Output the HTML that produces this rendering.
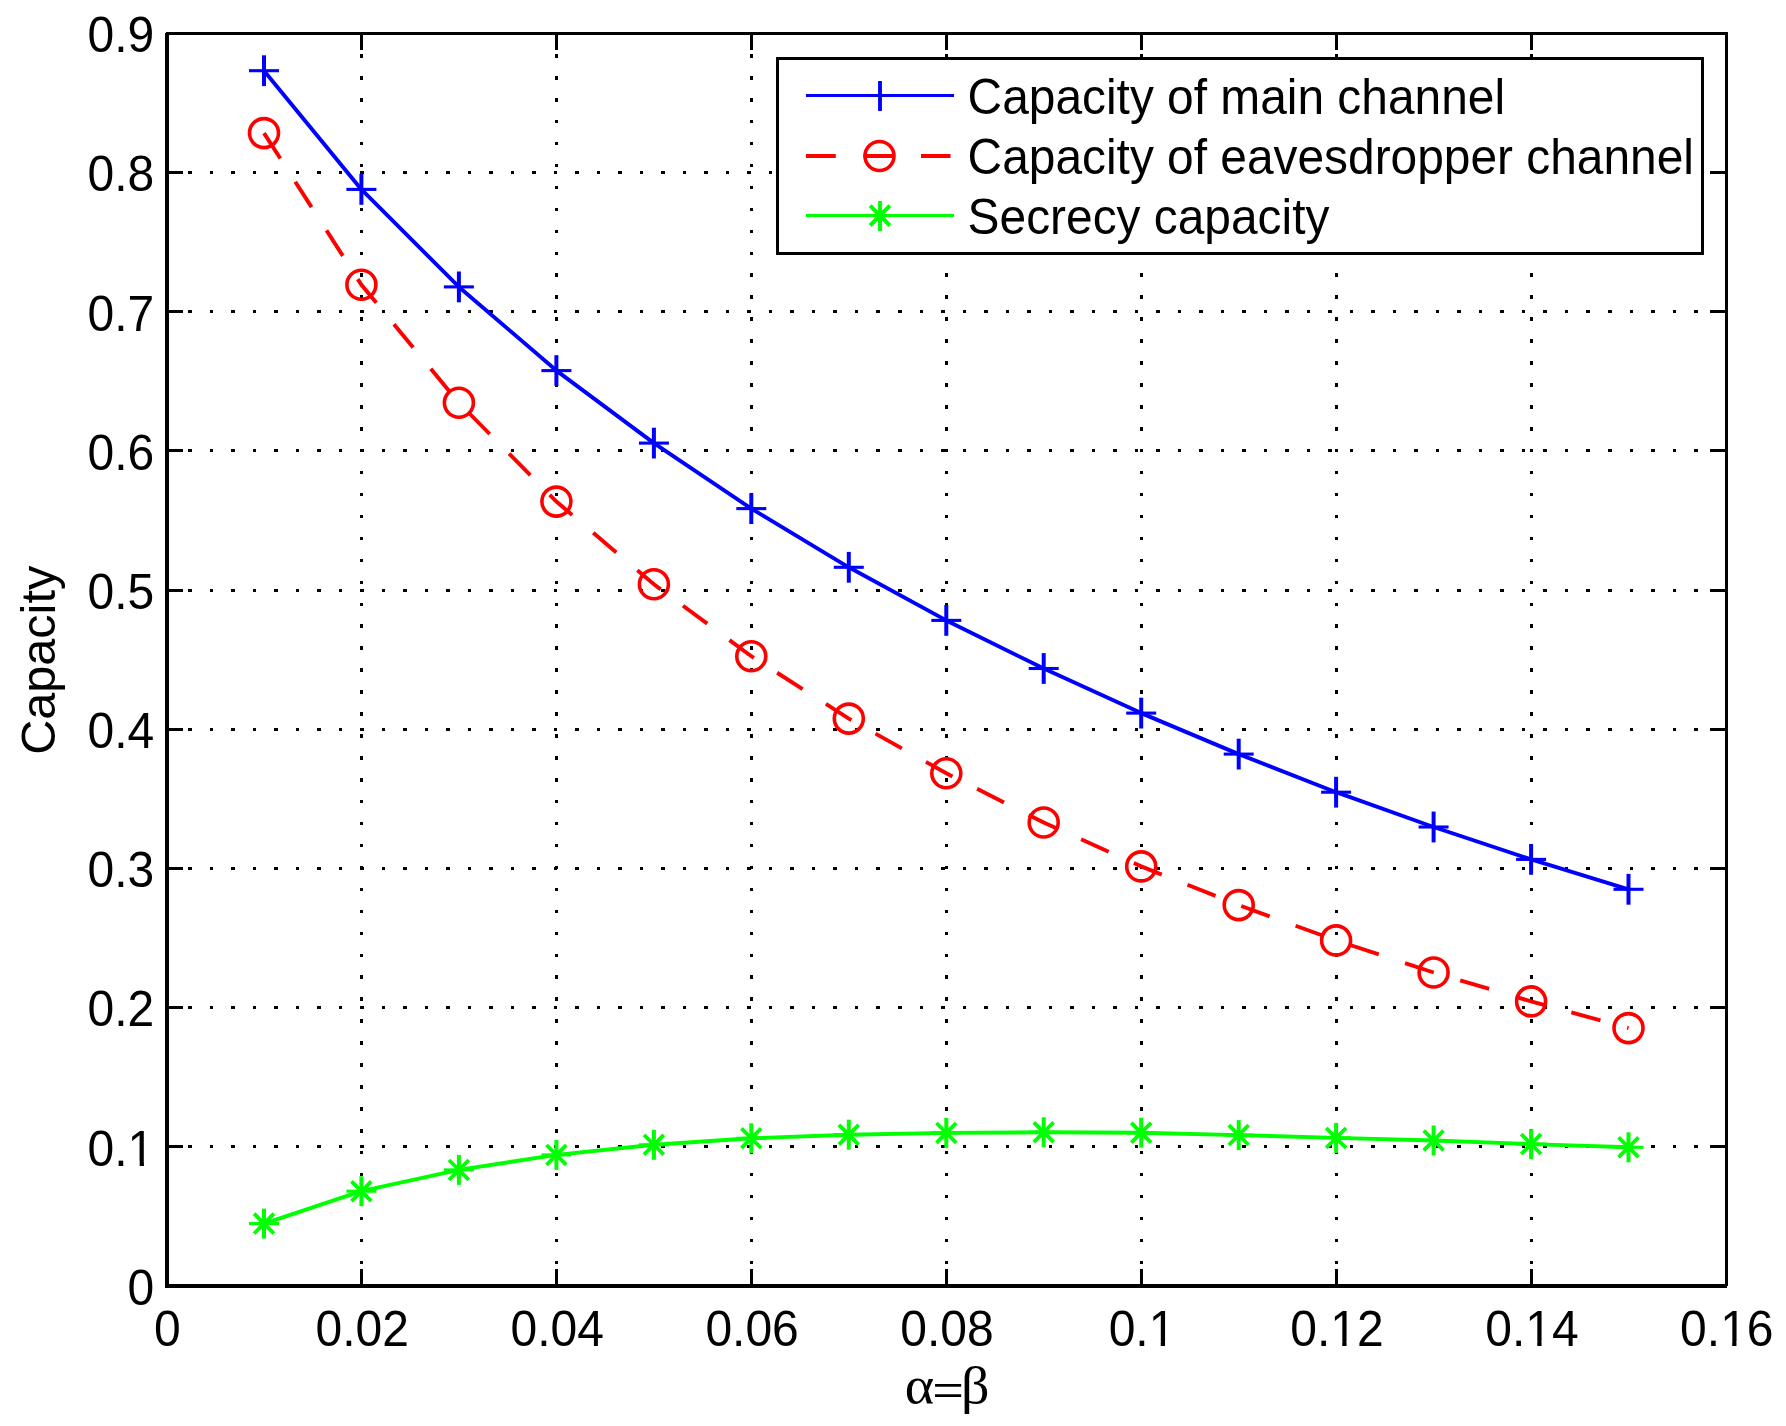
<!DOCTYPE html>
<html lang="en"><head><meta charset="utf-8"><title>Capacity vs alpha=beta</title>
<style>html,body{margin:0;padding:0;background:#fff}body{width:1786px;height:1426px;overflow:hidden}svg{display:block}text{font-family:"Liberation Sans",Arial,Helvetica,sans-serif;font-size:48px;fill:#000}.sym{font-family:"Liberation Serif","DejaVu Serif",serif}</style>
</head><body>
<svg width="1786" height="1426" viewBox="0 0 1786 1426">
<rect x="0" y="0" width="1786" height="1426" fill="#fff"/>
<g stroke="#000" stroke-width="3" fill="none" shape-rendering="crispEdges">
<line x1="361.5" y1="32.2" x2="361.5" y2="1286" stroke-dasharray="3.5 18.436"/>
<line x1="556.5" y1="32.2" x2="556.5" y2="1286" stroke-dasharray="3.5 18.436"/>
<line x1="751.5" y1="32.2" x2="751.5" y2="1286" stroke-dasharray="3.5 18.436"/>
<line x1="946.5" y1="32.2" x2="946.5" y2="1286" stroke-dasharray="3.5 18.436"/>
<line x1="1141.5" y1="32.2" x2="1141.5" y2="1286" stroke-dasharray="3.5 18.436"/>
<line x1="1336.5" y1="32.2" x2="1336.5" y2="1286" stroke-dasharray="3.5 18.436"/>
<line x1="1531.5" y1="32.2" x2="1531.5" y2="1286" stroke-dasharray="3.5 18.436"/>
<line x1="166.5" y1="1146.5" x2="1726" y2="1146.5" stroke-dasharray="3.5 18.015"/>
<line x1="166.5" y1="1007.5" x2="1726" y2="1007.5" stroke-dasharray="3.5 18.015"/>
<line x1="166.5" y1="868.5" x2="1726" y2="868.5" stroke-dasharray="3.5 18.015"/>
<line x1="166.5" y1="729.5" x2="1726" y2="729.5" stroke-dasharray="3.5 18.015"/>
<line x1="166.5" y1="590.5" x2="1726" y2="590.5" stroke-dasharray="3.5 18.015"/>
<line x1="166.5" y1="450.5" x2="1726" y2="450.5" stroke-dasharray="3.5 18.015"/>
<line x1="166.5" y1="311.5" x2="1726" y2="311.5" stroke-dasharray="3.5 18.015"/>
<line x1="166.5" y1="172.5" x2="1726" y2="172.5" stroke-dasharray="3.5 18.015"/>
</g>
<g stroke="#000" stroke-width="3" fill="none" shape-rendering="crispEdges">
<line x1="361.5" y1="1286" x2="361.5" y2="1269"/>
<line x1="361.5" y1="33" x2="361.5" y2="50"/>
<line x1="556.5" y1="1286" x2="556.5" y2="1269"/>
<line x1="556.5" y1="33" x2="556.5" y2="50"/>
<line x1="751.5" y1="1286" x2="751.5" y2="1269"/>
<line x1="751.5" y1="33" x2="751.5" y2="50"/>
<line x1="946.5" y1="1286" x2="946.5" y2="1269"/>
<line x1="946.5" y1="33" x2="946.5" y2="50"/>
<line x1="1141.5" y1="1286" x2="1141.5" y2="1269"/>
<line x1="1141.5" y1="33" x2="1141.5" y2="50"/>
<line x1="1336.5" y1="1286" x2="1336.5" y2="1269"/>
<line x1="1336.5" y1="33" x2="1336.5" y2="50"/>
<line x1="1531.5" y1="1286" x2="1531.5" y2="1269"/>
<line x1="1531.5" y1="33" x2="1531.5" y2="50"/>
<line x1="167" y1="1146.5" x2="183" y2="1146.5"/>
<line x1="1726" y1="1146.5" x2="1710" y2="1146.5"/>
<line x1="167" y1="1007.5" x2="183" y2="1007.5"/>
<line x1="1726" y1="1007.5" x2="1710" y2="1007.5"/>
<line x1="167" y1="868.5" x2="183" y2="868.5"/>
<line x1="1726" y1="868.5" x2="1710" y2="868.5"/>
<line x1="167" y1="729.5" x2="183" y2="729.5"/>
<line x1="1726" y1="729.5" x2="1710" y2="729.5"/>
<line x1="167" y1="590.5" x2="183" y2="590.5"/>
<line x1="1726" y1="590.5" x2="1710" y2="590.5"/>
<line x1="167" y1="450.5" x2="183" y2="450.5"/>
<line x1="1726" y1="450.5" x2="1710" y2="450.5"/>
<line x1="167" y1="311.5" x2="183" y2="311.5"/>
<line x1="1726" y1="311.5" x2="1710" y2="311.5"/>
<line x1="167" y1="172.5" x2="183" y2="172.5"/>
<line x1="1726" y1="172.5" x2="1710" y2="172.5"/>
</g>
<g fill="#000">
<rect x="165" y="33" width="4" height="1255"/>
<rect x="166" y="32" width="1562" height="3"/>
<rect x="1725" y="32" width="3" height="1254"/>
<rect x="165" y="1284" width="1562" height="4"/>
</g>
<polyline points="264.0,70.7 361.4,189.4 458.9,286.9 556.4,370.6 653.9,443.1 751.3,508.6 848.8,567.3 946.3,620.4 1043.7,668.5 1141.2,713.1 1238.7,754.1 1336.1,792.2 1433.6,827.0 1531.1,859.4 1628.5,889.3" fill="none" stroke="#0000ff" stroke-width="3.9" stroke-linejoin="round"/>
<polyline points="264.0,133.1 361.4,284.8 458.9,402.8 556.4,501.6 653.9,584.3 751.3,656.2 848.8,718.6 946.3,773.3 1043.7,822.5 1141.2,866.4 1238.7,905.1 1336.1,940.4 1433.6,972.5 1531.1,1001.4 1628.5,1028.1" fill="none" stroke="#ff0000" stroke-width="3.9" stroke-dasharray="30.2 27.63"/>
<polyline points="264.0,1223.6 361.4,1191.2 458.9,1169.9 556.4,1154.9 653.9,1144.8 751.3,1138.3 848.8,1134.7 946.3,1132.9 1043.7,1132.3 1141.2,1132.7 1238.7,1135.1 1336.1,1137.9 1433.6,1140.5 1531.1,1144.1 1628.5,1147.3" fill="none" stroke="#00ff00" stroke-width="3.9" stroke-linejoin="round"/>
<path d="M264.0 55.3V86.1" stroke="#0000ff" stroke-width="4" fill="none"/><path d="M249.0 70.7H279.0" stroke="#0000ff" stroke-width="3.1" fill="none"/>
<path d="M361.4 174.0V204.8" stroke="#0000ff" stroke-width="4" fill="none"/><path d="M346.4 189.4H376.4" stroke="#0000ff" stroke-width="3.1" fill="none"/>
<path d="M458.9 271.5V302.3" stroke="#0000ff" stroke-width="4" fill="none"/><path d="M443.9 286.9H473.9" stroke="#0000ff" stroke-width="3.1" fill="none"/>
<path d="M556.4 355.2V386.0" stroke="#0000ff" stroke-width="4" fill="none"/><path d="M541.4 370.6H571.4" stroke="#0000ff" stroke-width="3.1" fill="none"/>
<path d="M653.9 427.7V458.5" stroke="#0000ff" stroke-width="4" fill="none"/><path d="M638.9 443.1H668.9" stroke="#0000ff" stroke-width="3.1" fill="none"/>
<path d="M751.3 493.2V524.0" stroke="#0000ff" stroke-width="4" fill="none"/><path d="M736.3 508.6H766.3" stroke="#0000ff" stroke-width="3.1" fill="none"/>
<path d="M848.8 551.9V582.7" stroke="#0000ff" stroke-width="4" fill="none"/><path d="M833.8 567.3H863.8" stroke="#0000ff" stroke-width="3.1" fill="none"/>
<path d="M946.3 605.0V635.8" stroke="#0000ff" stroke-width="4" fill="none"/><path d="M931.3 620.4H961.3" stroke="#0000ff" stroke-width="3.1" fill="none"/>
<path d="M1043.7 653.1V683.9" stroke="#0000ff" stroke-width="4" fill="none"/><path d="M1028.7 668.5H1058.7" stroke="#0000ff" stroke-width="3.1" fill="none"/>
<path d="M1141.2 697.7V728.5" stroke="#0000ff" stroke-width="4" fill="none"/><path d="M1126.2 713.1H1156.2" stroke="#0000ff" stroke-width="3.1" fill="none"/>
<path d="M1238.7 738.7V769.5" stroke="#0000ff" stroke-width="4" fill="none"/><path d="M1223.7 754.1H1253.7" stroke="#0000ff" stroke-width="3.1" fill="none"/>
<path d="M1336.1 776.8V807.6" stroke="#0000ff" stroke-width="4" fill="none"/><path d="M1321.1 792.2H1351.1" stroke="#0000ff" stroke-width="3.1" fill="none"/>
<path d="M1433.6 811.6V842.4" stroke="#0000ff" stroke-width="4" fill="none"/><path d="M1418.6 827.0H1448.6" stroke="#0000ff" stroke-width="3.1" fill="none"/>
<path d="M1531.1 844.0V874.8" stroke="#0000ff" stroke-width="4" fill="none"/><path d="M1516.1 859.4H1546.1" stroke="#0000ff" stroke-width="3.1" fill="none"/>
<path d="M1628.5 873.9V904.7" stroke="#0000ff" stroke-width="4" fill="none"/><path d="M1613.5 889.3H1643.5" stroke="#0000ff" stroke-width="3.1" fill="none"/>
<circle cx="264.0" cy="133.1" r="14.5" stroke="#ff0000" stroke-width="3.6" fill="none"/>
<circle cx="361.4" cy="284.8" r="14.5" stroke="#ff0000" stroke-width="3.6" fill="none"/>
<circle cx="458.9" cy="402.8" r="14.5" stroke="#ff0000" stroke-width="3.6" fill="none"/>
<circle cx="556.4" cy="501.6" r="14.5" stroke="#ff0000" stroke-width="3.6" fill="none"/>
<circle cx="653.9" cy="584.3" r="14.5" stroke="#ff0000" stroke-width="3.6" fill="none"/>
<circle cx="751.3" cy="656.2" r="14.5" stroke="#ff0000" stroke-width="3.6" fill="none"/>
<circle cx="848.8" cy="718.6" r="14.5" stroke="#ff0000" stroke-width="3.6" fill="none"/>
<circle cx="946.3" cy="773.3" r="14.5" stroke="#ff0000" stroke-width="3.6" fill="none"/>
<circle cx="1043.7" cy="822.5" r="14.5" stroke="#ff0000" stroke-width="3.6" fill="none"/>
<circle cx="1141.2" cy="866.4" r="14.5" stroke="#ff0000" stroke-width="3.6" fill="none"/>
<circle cx="1238.7" cy="905.1" r="14.5" stroke="#ff0000" stroke-width="3.6" fill="none"/>
<circle cx="1336.1" cy="940.4" r="14.5" stroke="#ff0000" stroke-width="3.6" fill="none"/>
<circle cx="1433.6" cy="972.5" r="14.5" stroke="#ff0000" stroke-width="3.6" fill="none"/>
<circle cx="1531.1" cy="1001.4" r="14.5" stroke="#ff0000" stroke-width="3.6" fill="none"/>
<circle cx="1628.5" cy="1028.1" r="14.5" stroke="#ff0000" stroke-width="3.6" fill="none"/>
<path d="M264.0 1208.6V1238.6" stroke="#00ff00" stroke-width="4" fill="none"/><path d="M249.0 1223.6H279.0" stroke="#00ff00" stroke-width="3.1" fill="none"/><path d="M254.1 1213.7L273.9 1233.5M254.1 1233.5L273.9 1213.7" stroke="#00ff00" stroke-width="3.8" fill="none"/>
<path d="M361.4 1176.2V1206.2" stroke="#00ff00" stroke-width="4" fill="none"/><path d="M346.4 1191.2H376.4" stroke="#00ff00" stroke-width="3.1" fill="none"/><path d="M351.5 1181.3L371.3 1201.1M351.5 1201.1L371.3 1181.3" stroke="#00ff00" stroke-width="3.8" fill="none"/>
<path d="M458.9 1154.9V1184.9" stroke="#00ff00" stroke-width="4" fill="none"/><path d="M443.9 1169.9H473.9" stroke="#00ff00" stroke-width="3.1" fill="none"/><path d="M449.0 1160.0L468.8 1179.8M449.0 1179.8L468.8 1160.0" stroke="#00ff00" stroke-width="3.8" fill="none"/>
<path d="M556.4 1139.9V1169.9" stroke="#00ff00" stroke-width="4" fill="none"/><path d="M541.4 1154.9H571.4" stroke="#00ff00" stroke-width="3.1" fill="none"/><path d="M546.5 1145.0L566.3 1164.8M546.5 1164.8L566.3 1145.0" stroke="#00ff00" stroke-width="3.8" fill="none"/>
<path d="M653.9 1129.8V1159.8" stroke="#00ff00" stroke-width="4" fill="none"/><path d="M638.9 1144.8H668.9" stroke="#00ff00" stroke-width="3.1" fill="none"/><path d="M644.0 1134.9L663.8 1154.7M644.0 1154.7L663.8 1134.9" stroke="#00ff00" stroke-width="3.8" fill="none"/>
<path d="M751.3 1123.3V1153.3" stroke="#00ff00" stroke-width="4" fill="none"/><path d="M736.3 1138.3H766.3" stroke="#00ff00" stroke-width="3.1" fill="none"/><path d="M741.4 1128.4L761.2 1148.2M741.4 1148.2L761.2 1128.4" stroke="#00ff00" stroke-width="3.8" fill="none"/>
<path d="M848.8 1119.7V1149.7" stroke="#00ff00" stroke-width="4" fill="none"/><path d="M833.8 1134.7H863.8" stroke="#00ff00" stroke-width="3.1" fill="none"/><path d="M838.9 1124.8L858.7 1144.6M838.9 1144.6L858.7 1124.8" stroke="#00ff00" stroke-width="3.8" fill="none"/>
<path d="M946.3 1117.9V1147.9" stroke="#00ff00" stroke-width="4" fill="none"/><path d="M931.3 1132.9H961.3" stroke="#00ff00" stroke-width="3.1" fill="none"/><path d="M936.4 1123.0L956.2 1142.8M936.4 1142.8L956.2 1123.0" stroke="#00ff00" stroke-width="3.8" fill="none"/>
<path d="M1043.7 1117.3V1147.3" stroke="#00ff00" stroke-width="4" fill="none"/><path d="M1028.7 1132.3H1058.7" stroke="#00ff00" stroke-width="3.1" fill="none"/><path d="M1033.8 1122.4L1053.6 1142.2M1033.8 1142.2L1053.6 1122.4" stroke="#00ff00" stroke-width="3.8" fill="none"/>
<path d="M1141.2 1117.7V1147.7" stroke="#00ff00" stroke-width="4" fill="none"/><path d="M1126.2 1132.7H1156.2" stroke="#00ff00" stroke-width="3.1" fill="none"/><path d="M1131.3 1122.8L1151.1 1142.6M1131.3 1142.6L1151.1 1122.8" stroke="#00ff00" stroke-width="3.8" fill="none"/>
<path d="M1238.7 1120.1V1150.1" stroke="#00ff00" stroke-width="4" fill="none"/><path d="M1223.7 1135.1H1253.7" stroke="#00ff00" stroke-width="3.1" fill="none"/><path d="M1228.8 1125.2L1248.6 1145.0M1228.8 1145.0L1248.6 1125.2" stroke="#00ff00" stroke-width="3.8" fill="none"/>
<path d="M1336.1 1122.9V1152.9" stroke="#00ff00" stroke-width="4" fill="none"/><path d="M1321.1 1137.9H1351.1" stroke="#00ff00" stroke-width="3.1" fill="none"/><path d="M1326.2 1128.0L1346.0 1147.8M1326.2 1147.8L1346.0 1128.0" stroke="#00ff00" stroke-width="3.8" fill="none"/>
<path d="M1433.6 1125.5V1155.5" stroke="#00ff00" stroke-width="4" fill="none"/><path d="M1418.6 1140.5H1448.6" stroke="#00ff00" stroke-width="3.1" fill="none"/><path d="M1423.7 1130.6L1443.5 1150.4M1423.7 1150.4L1443.5 1130.6" stroke="#00ff00" stroke-width="3.8" fill="none"/>
<path d="M1531.1 1129.1V1159.1" stroke="#00ff00" stroke-width="4" fill="none"/><path d="M1516.1 1144.1H1546.1" stroke="#00ff00" stroke-width="3.1" fill="none"/><path d="M1521.2 1134.2L1541.0 1154.0M1521.2 1154.0L1541.0 1134.2" stroke="#00ff00" stroke-width="3.8" fill="none"/>
<path d="M1628.5 1132.3V1162.3" stroke="#00ff00" stroke-width="4" fill="none"/><path d="M1613.5 1147.3H1643.5" stroke="#00ff00" stroke-width="3.1" fill="none"/><path d="M1618.6 1137.4L1638.5 1157.2M1618.6 1157.2L1638.5 1137.4" stroke="#00ff00" stroke-width="3.8" fill="none"/>
<text transform="translate(167.3 1345.6) scale(1 1.03)" text-anchor="middle">0</text>
<text transform="translate(362.2 1345.6) scale(1 1.03)" text-anchor="middle">0.02</text>
<text transform="translate(557.2 1345.6) scale(1 1.03)" text-anchor="middle">0.04</text>
<text transform="translate(752.1 1345.6) scale(1 1.03)" text-anchor="middle">0.06</text>
<text transform="translate(947.0 1345.6) scale(1 1.03)" text-anchor="middle">0.08</text>
<text transform="translate(1142.0 1345.6) scale(1 1.03)" text-anchor="middle">0.1</text>
<rect x="1151.47" y="1341.40" width="9.25" height="4.9" fill="#fff"/>
<rect x="1165.00" y="1341.40" width="9.67" height="4.9" fill="#fff"/>
<text transform="translate(1336.9 1345.6) scale(1 1.03)" text-anchor="middle">0.12</text>
<rect x="1333.02" y="1341.40" width="9.25" height="4.9" fill="#fff"/>
<rect x="1346.55" y="1341.40" width="9.67" height="4.9" fill="#fff"/>
<text transform="translate(1531.9 1345.6) scale(1 1.03)" text-anchor="middle">0.14</text>
<rect x="1528.02" y="1341.40" width="9.25" height="4.9" fill="#fff"/>
<rect x="1541.55" y="1341.40" width="9.67" height="4.9" fill="#fff"/>
<text transform="translate(1726.8 1345.6) scale(1 1.03)" text-anchor="middle">0.16</text>
<rect x="1722.92" y="1341.40" width="9.25" height="4.9" fill="#fff"/>
<rect x="1736.45" y="1341.40" width="9.67" height="4.9" fill="#fff"/>
<text transform="translate(154.3 1304.7) scale(1 1.03)" text-anchor="end">0</text>
<text transform="translate(154.3 1165.5) scale(1 1.03)" text-anchor="end">0.1</text>
<rect x="130.40" y="1161.30" width="9.25" height="4.9" fill="#fff"/>
<rect x="143.93" y="1161.30" width="9.67" height="4.9" fill="#fff"/>
<text transform="translate(154.3 1026.4) scale(1 1.03)" text-anchor="end">0.2</text>
<text transform="translate(154.3 887.2) scale(1 1.03)" text-anchor="end">0.3</text>
<text transform="translate(154.3 748.0) scale(1 1.03)" text-anchor="end">0.4</text>
<text transform="translate(154.3 608.9) scale(1 1.03)" text-anchor="end">0.5</text>
<text transform="translate(154.3 469.7) scale(1 1.03)" text-anchor="end">0.6</text>
<text transform="translate(154.3 330.5) scale(1 1.03)" text-anchor="end">0.7</text>
<text transform="translate(154.3 191.4) scale(1 1.03)" text-anchor="end">0.8</text>
<text transform="translate(154.3 52.2) scale(1 1.03)" text-anchor="end">0.9</text>
<text transform="translate(54.7 660.3) rotate(-90) scale(1.012 1.02)" text-anchor="middle">Capacity</text>
<text class="sym" transform="scale(1.17 1.08)" x="773.33 796.79 821.35" y="1299.44" dy="0 4.17 -4.76">α=β</text>
<rect x="777.5" y="58.5" width="925" height="195" fill="#fff" stroke="#000" stroke-width="3"/>
<line x1="806.0" y1="95.5" x2="954.0" y2="95.5" stroke="#0000ff" stroke-width="3.2"/>
<path d="M880.0 81V111" stroke="#0000ff" stroke-width="3.9" fill="none"/>
<line x1="806.0" y1="156.0" x2="950.5" y2="156.0" stroke="#ff0000" stroke-width="3.9" stroke-dasharray="29.8 27.7"/>
<circle cx="879.5" cy="156.0" r="14.5" stroke="#ff0000" stroke-width="3.6" fill="none"/>
<line x1="806.0" y1="215.5" x2="954.0" y2="215.5" stroke="#00ff00" stroke-width="3.2"/>
<path d="M880 201V231M870.1 205.7L889.9 225.5M870.1 225.5L889.9 205.7" stroke="#00ff00" stroke-width="3.9" fill="none"/>
<text transform="translate(967.6 113.8) scale(0.9975 1.045)">Capacity of main channel</text>
<text transform="translate(967.6 173.9) scale(0.9975 1.045)">Capacity of eavesdropper channel</text>
<text transform="translate(967.6 234.3) scale(0.9975 1.045)">Secrecy capacity</text>
</svg></body></html>
